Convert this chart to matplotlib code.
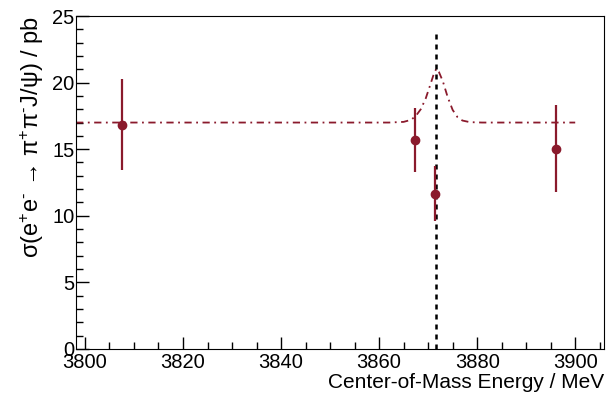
import numpy as np
import matplotlib
matplotlib.use('Agg')
import matplotlib.pyplot as plt
from matplotlib.ticker import MultipleLocator

plt.rcParams['font.family'] = ['Liberation Sans', 'DejaVu Sans']
plt.rcParams['mathtext.default'] = 'regular'

# measured cross sections
energy = [3807.6, 3867.3, 3871.3, 3896.1]
xsec = [16.85, 15.7, 11.6, 15.0]
err_lo = [3.45, 2.4, 2.0, 3.2]
err_hi = [3.45, 2.4, 2.1, 3.3]

# fit curve
fit_x = [3798.2, 3820, 3850, 3862, 3865, 3866.5, 3867.5, 3868.5, 3869.5, 3870.5,
         3871.2, 3871.7, 3872.2, 3873.0, 3874.0, 3875.0, 3876.0, 3877.0, 3878.5,
         3881, 3890, 3900]
fit_y = [17.0, 17.0, 17.0, 17.0, 17.05, 17.2, 17.5, 18.0, 18.8, 19.9,
         20.7, 21.05, 20.8, 20.1, 18.9, 17.95, 17.4, 17.15, 17.03,
         17.0, 17.0, 17.0]

x3872 = 3871.65
line_top = 23.8

red = '#8a1a2c'

fig = plt.figure(figsize=(6.09, 4.01), dpi=100)
ax = fig.add_axes([0.125, 0.130, 0.867, 0.830])

ax.plot(fit_x, fit_y, color=red, lw=1.3, linestyle=(0, (4, 2.5, 1, 2.5)))
ax.plot([x3872, x3872], [0, line_top], color='black', lw=1.8, linestyle=(0, (2, 2)))
ax.errorbar(energy, xsec, yerr=[err_lo, err_hi], fmt='o', color=red,
            ms=6, elinewidth=1.6, capsize=0)

ax.set_xlim(3798.2, 3905.9)
ax.set_ylim(0, 25)
ax.xaxis.set_major_locator(MultipleLocator(20))
ax.xaxis.set_minor_locator(MultipleLocator(5))
ax.yaxis.set_major_locator(MultipleLocator(5))
ax.yaxis.set_minor_locator(MultipleLocator(1))
ax.tick_params(which='both', direction='in', labelsize=14.5, width=1)
ax.tick_params(which='major', length=9)
ax.tick_params(which='minor', length=5)
ax.tick_params(axis='x', pad=3)
ax.tick_params(axis='y', pad=1)

ax.set_xlabel('Center-of-Mass Energy / MeV', fontsize=15, loc='right', labelpad=1)
ax.set_ylabel(r'σ(e$^{+}$e$^{‐}$ → π$^{+}$π$^{‐}$J/ψ) / pb', fontsize=17, loc='top', labelpad=5)

fig.savefig('out.png', dpi=100)
